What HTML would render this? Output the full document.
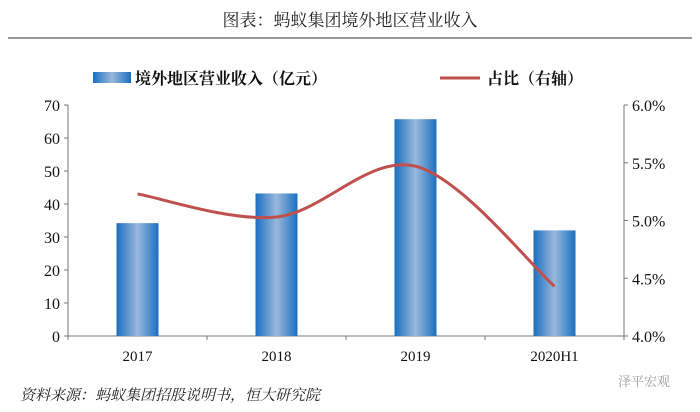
<!DOCTYPE html>
<html><head><meta charset="utf-8"><style>
body{margin:0;width:700px;height:412px;background:#fff;overflow:hidden;font-family:"Liberation Serif","Noto Serif CJK SC",serif}
</style></head><body>
<svg width="700" height="412" style="position:absolute;left:0;top:0">
<defs><linearGradient id="g" x1="0" x2="1"><stop offset="0" stop-color="#1a6fc0"/><stop offset="0.5" stop-color="#9ab8dc"/><stop offset="1" stop-color="#1a6fc0"/></linearGradient></defs>
<text x="350" y="26" text-anchor="middle" font-size="17" fill="#222">图表：蚂蚁集团境外地区营业收入</text>
<line x1="8" y1="38" x2="692" y2="38" stroke="#333" stroke-width="1"/>
<g>
<rect x="93" y="72" width="38" height="11" fill="url(#g)"/>
<text x="135" y="84" font-size="16" font-weight="bold" fill="#111">境外地区营业收入（亿元）</text>
<line x1="440" y1="78" x2="480" y2="78" stroke="#c0504d" stroke-width="3"/>
<text x="487" y="84" font-size="16" font-weight="bold" fill="#111">占比（右轴）</text>
</g>
<g id="axes"></g><g id="bars"></g><g id="line"></g>
<text x="20" y="400" font-size="15" font-style="italic" fill="#222">资料来源：蚂蚁集团招股说明书，恒大研究院</text>
<text x="618" y="386" font-size="13" fill="#999">泽平宏观</text>
</svg>
<script>
const categories=["2017","2018","2019","2020H1"];
const revenue=[34.2,43.2,65.7,32];
const share=[5.23,5.03,5.47,4.43];
const leftTicks=[0,10,20,30,40,50,60,70];
const rightTicks=[4.0,4.5,5.0,5.5,6.0];
const NS="http://www.w3.org/2000/svg";
const X0=68,X1=624,Y0=336,Y1=105;
const bw=(X1-X0)/categories.length;
const xc=i=>X0+bw*(i+0.5);
const yl=v=>Y0-(v/70)*(Y0-Y1);
const yr=v=>Y0-((v-4)/2)*(Y0-Y1);
function mk(t,a,p){const e=document.createElementNS(NS,t);for(const k in a)e.setAttribute(k,a[k]);p.appendChild(e);return e;}
const ax=document.getElementById('axes');
let e=mk('line',{x1:X0,y1:Y1,x2:X0,y2:Y0,stroke:'#777'},ax);


e=mk('line',{x1:X1,y1:Y1,x2:X1,y2:Y0,stroke:'#777'},ax);


e=mk('line',{x1:X0,y1:Y0,x2:X1,y2:Y0,stroke:'#777'},ax);


leftTicks.forEach(v=>{const y=yl(v);mk('line',{x1:X0-4,y1:y,x2:X0,y2:y,stroke:'#777'},ax);
const t=mk('text',{x:X0-8,y:y+6,'text-anchor':'end','font-size':16,fill:'#111'},ax);t.textContent=v;

});
rightTicks.forEach(v=>{const y=yr(v);mk('line',{x1:X1,y1:y,x2:X1+4,y2:y,stroke:'#777'},ax);
const t=mk('text',{x:X1+8,y:y+6,'font-size':16,fill:'#111'},ax);t.textContent=v.toFixed(1)+'%';

});
for(let i=0;i<=categories.length;i++){const x=X0+bw*i;mk('line',{x1:x,y1:Y0,x2:x,y2:Y0+4,stroke:'#777'},ax);}
categories.forEach((c,i)=>{const t=mk('text',{x:xc(i),y:361,'text-anchor':'middle','font-size':15,fill:'#111'},ax);t.textContent=c;

});
const bg=document.getElementById('bars');
revenue.forEach((v,i)=>{const r=mk('rect',{x:xc(i)-21,y:yl(v),width:42,height:Y0-yl(v),fill:'url(#g)'},bg);

});
const pts=share.map((v,i)=>[xc(i),yr(v)]);
let d='M'+pts[0][0]+','+pts[0][1];
for(let i=0;i<pts.length-1;i++){const p0=pts[i-1]||pts[i],p1=pts[i],p2=pts[i+1],p3=pts[i+2]||p2;
const c1=[p1[0]+(p2[0]-p0[0])/6,p1[1]+(p2[1]-p0[1])/6],c2=[p2[0]-(p3[0]-p1[0])/6,p2[1]-(p3[1]-p1[1])/6];
d+=` C${c1[0]},${c1[1]} ${c2[0]},${c2[1]} ${p2[0]},${p2[1]}`;}
const l=mk('path',{d:d,fill:'none',stroke:'#c0504d','stroke-width':3},document.getElementById('line'));


</script>
</body></html>
